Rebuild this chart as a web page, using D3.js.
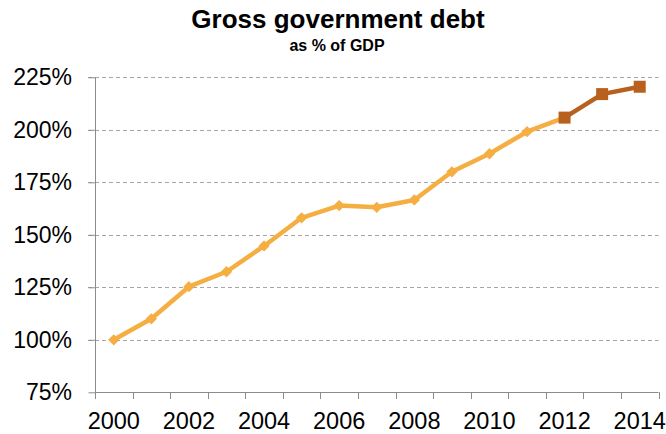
<!DOCTYPE html>
<html>
<head>
<meta charset="utf-8">
<script src="https://cdn.jsdelivr.net/npm/d3@7"></script>
<style>
  html, body { margin: 0; padding: 0; background: #ffffff; }
  svg { display: block; font-family: "Liberation Sans", Arial, sans-serif; }
</style>
</head>
<body>
<svg id="chart" width="666" height="434"></svg>
<script>
// Gross government debt, % of GDP
const years = [2000, 2001, 2002, 2003, 2004, 2005, 2006, 2007, 2008, 2009, 2010, 2011, 2012, 2013, 2014];
const actualYears = [2000, 2001, 2002, 2003, 2004, 2005, 2006, 2007, 2008, 2009, 2010, 2011, 2012];
const actualValues = [100, 110, 125.3, 132.4, 144.7, 158.1, 163.9, 163.1, 166.6, 180, 188.6, 199.1, 205.8];
const forecastYears = [2012, 2013, 2014];
const forecastValues = [205.8, 217, 220.5];
const yTicks = [75, 100, 125, 150, 175, 200, 225];
const xTickLabels = [2000, 2002, 2004, 2006, 2008, 2010, 2012, 2014];

const svg = d3.select("#chart");
const plotLeft = 95, plotRight = 658.5, plotTop = 77.3, plotBottom = 392.3;

const x = d3.scaleBand().domain(years).range([plotLeft, plotRight]);
const y = d3.scaleLinear().domain([75, 225]).range([plotBottom, plotTop]);
const cx = d => x(d) + x.bandwidth() / 2;

// Title
svg.append("text")
  .attr("x", 338).attr("y", 28)
  .attr("text-anchor", "middle")
  .attr("font-size", 26).attr("font-weight", "bold")
  .attr("fill", "#000")
  .text("Gross government debt");
svg.append("text")
  .attr("x", 337).attr("y", 51)
  .attr("text-anchor", "middle")
  .attr("font-size", 16).attr("font-weight", "bold")
  .attr("fill", "#000")
  .text("as % of GDP");

// Horizontal dashed gridlines
svg.append("g")
  .selectAll("line")
  .data(yTicks.filter(v => v > 75))
  .join("line")
  .attr("x1", plotLeft - 7).attr("x2", plotRight)
  .attr("y1", d => Math.round(y(d)) + 0.5).attr("y2", d => Math.round(y(d)) + 0.5)
  .attr("stroke", "#a6a6a6").attr("stroke-width", 1)
  .attr("stroke-dasharray", "4,3");

// Y axis
const yAxis = svg.append("g")
  .attr("transform", `translate(${plotLeft + 0.5},0)`)
  .call(d3.axisLeft(y).tickValues(yTicks).tickSize(7).tickPadding(16.5).tickFormat(d => d + "%"));
yAxis.select(".domain").attr("stroke", "#8c8c8c").attr("d", `M0,${plotTop}V${plotBottom}`);
yAxis.selectAll(".tick line").attr("stroke", "#8c8c8c");
yAxis.selectAll(".tick text").attr("font-size", 23).attr("fill", "#000")
  .attr("font-family", "'Liberation Sans', Arial, sans-serif");

// X axis: ticks between categories, labels every second year
const boundaries = years.map(d => x(d)).concat([plotRight]);
const xg = svg.append("g");
xg.append("line")
  .attr("x1", plotLeft).attr("x2", plotRight)
  .attr("y1", Math.round(plotBottom) + 0.5).attr("y2", Math.round(plotBottom) + 0.5)
  .attr("stroke", "#8c8c8c");
xg.selectAll("line.tick")
  .data(boundaries)
  .join("line")
  .attr("class", "tick")
  .attr("x1", d => Math.round(d) + 0.5).attr("x2", d => Math.round(d) + 0.5)
  .attr("y1", Math.round(plotBottom)).attr("y2", Math.round(plotBottom) + 7)
  .attr("stroke", "#8c8c8c");
xg.selectAll("text")
  .data(xTickLabels)
  .join("text")
  .attr("x", d => cx(d)).attr("y", 429)
  .attr("text-anchor", "middle")
  .attr("font-size", 23.5).attr("fill", "#000")
  .text(d => d);

const lightColor = "#f5ae42";
const darkColor = "#b8601e";

// Actual series: line with diamond markers
const line = d3.line().x(d => cx(d[0])).y(d => y(d[1]));
const actual = actualYears.map((d, i) => [d, actualValues[i]]);
const forecast = forecastYears.map((d, i) => [d, forecastValues[i]]);

svg.append("path").datum(actual)
  .attr("d", line).attr("fill", "none")
  .attr("stroke", lightColor).attr("stroke-width", 4.5).attr("stroke-linejoin", "round");
svg.append("g").selectAll("path")
  .data(actual)
  .join("path")
  .attr("d", d3.symbol(d3.symbolSquare, 64))
  .attr("transform", d => `translate(${cx(d[0])},${y(d[1])}) rotate(45)`)
  .attr("fill", lightColor);

// Projection series: line with square markers
svg.append("path").datum(forecast)
  .attr("d", line).attr("fill", "none")
  .attr("stroke", darkColor).attr("stroke-width", 4.5).attr("stroke-linejoin", "round");
svg.append("g").selectAll("rect")
  .data(forecast)
  .join("rect")
  .attr("x", d => cx(d[0]) - 6).attr("y", d => y(d[1]) - 6)
  .attr("width", 12).attr("height", 12)
  .attr("fill", darkColor);
</script>
</body>
</html>
